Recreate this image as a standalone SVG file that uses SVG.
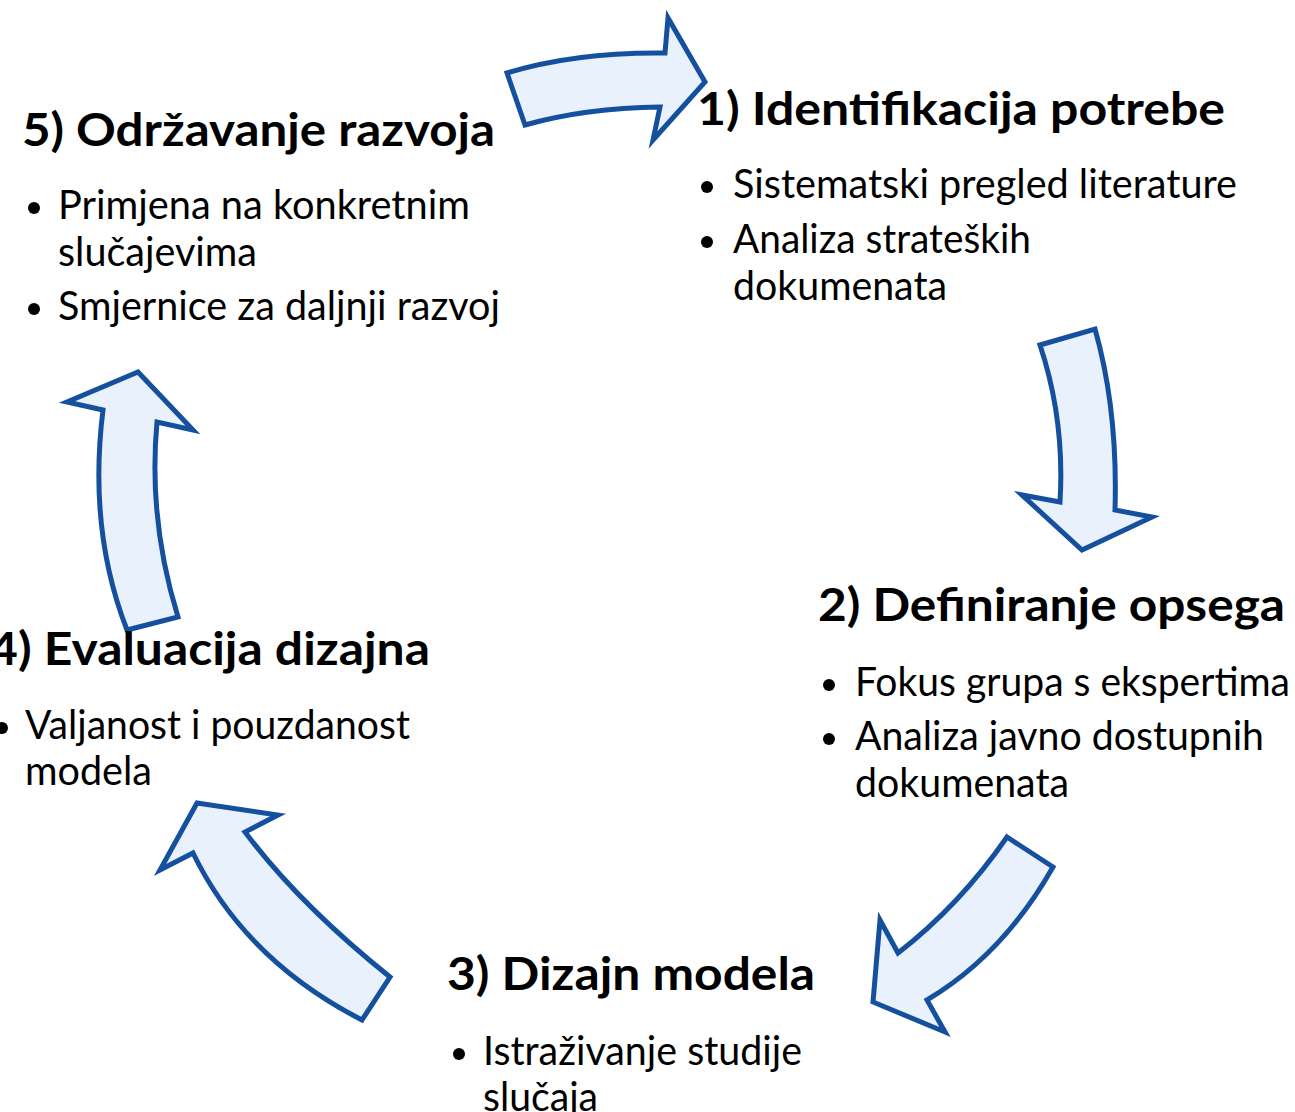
<svg xmlns="http://www.w3.org/2000/svg" width="1295" height="1112" viewBox="0 0 1295 1112">
<style>
.arrow{fill:#E8F1FC;stroke:#15509E;stroke-width:5;stroke-linejoin:miter;stroke-miterlimit:10}
.h{font-family:Lato,"Open Sans","Liberation Sans",sans-serif;font-weight:bold;font-size:46px;fill:#000}
.t{font-family:Lato,"Open Sans","Liberation Sans",sans-serif;font-size:41px;fill:#000}
.dot{fill:#000}
</style>
<rect width="1295" height="1112" fill="#fff"/>
<g id="connectors">
<path class="arrow" d="M507,73 Q575,52 665,53 L668,18 L705,82 L653,140 L660,107 Q585,108 525,125 Z"/>
<path class="arrow" d="M1040,345 L1095,329 Q1118,410 1115,510 L1152,517 L1082,550 L1022,495 L1060,502 Q1065,420 1040,345 Z"/>
<path class="arrow" d="M1007,837 L1053,867 Q1003,955 927,1000 L945,1032 L873,1002 L880,920 L898,953 Q960,905 1007,837 Z"/>
<path class="arrow" d="M362,1020 L390,977 Q300,905 245,832 L278,815 L197,803 L160,870 L193,853 Q245,960 362,1020 Z"/>
<path class="arrow" d="M127,630 L178,617 Q148,520 157,422 L193,430 L138,372 L67,402 L103,410 Q88,530 127,630 Z"/>
</g>
<g id="node1">
<text class="h" x="697" y="125" textLength="528" lengthAdjust="spacingAndGlyphs">1) Identifikacija potrebe</text>
<circle class="dot" cx="707" cy="187" r="6"/>
<text class="t" x="733" y="198" textLength="504" lengthAdjust="spacingAndGlyphs">Sistematski pregled literature</text>
<circle class="dot" cx="707" cy="242" r="6"/>
<text class="t" x="733" y="253" textLength="298" lengthAdjust="spacingAndGlyphs">Analiza strateških</text>
<text class="t" x="733" y="300" textLength="214" lengthAdjust="spacingAndGlyphs">dokumenata</text>
</g>
<g id="node2">
<text class="h" x="818" y="621" textLength="467" lengthAdjust="spacingAndGlyphs">2) Definiranje opsega</text>
<circle class="dot" cx="829" cy="685" r="6"/>
<text class="t" x="855" y="696" textLength="435" lengthAdjust="spacingAndGlyphs">Fokus grupa s ekspertima</text>
<circle class="dot" cx="829" cy="739" r="6"/>
<text class="t" x="855" y="750" textLength="409" lengthAdjust="spacingAndGlyphs">Analiza javno dostupnih</text>
<text class="t" x="855" y="797" textLength="214" lengthAdjust="spacingAndGlyphs">dokumenata</text>
</g>
<g id="node3">
<text class="h" x="447" y="990" textLength="368" lengthAdjust="spacingAndGlyphs">3) Dizajn modela</text>
<circle class="dot" cx="459" cy="1054" r="6"/>
<text class="t" x="483" y="1065" textLength="319" lengthAdjust="spacingAndGlyphs">Istraživanje studije</text>
<text class="t" x="483" y="1111" textLength="115" lengthAdjust="spacingAndGlyphs">slučaja</text>
</g>
<g id="node4">
<text class="h" x="-11" y="665" textLength="441" lengthAdjust="spacingAndGlyphs">4) Evaluacija dizajna</text>
<circle class="dot" cx="2" cy="728" r="6"/>
<text class="t" x="25" y="739" textLength="385" lengthAdjust="spacingAndGlyphs">Valjanost i pouzdanost</text>
<text class="t" x="25" y="785" textLength="127" lengthAdjust="spacingAndGlyphs">modela</text>
</g>
<g id="node5">
<text class="h" x="22" y="146" textLength="473" lengthAdjust="spacingAndGlyphs">5) Održavanje razvoja</text>
<circle class="dot" cx="34" cy="208" r="6"/>
<text class="t" x="58" y="219" textLength="412" lengthAdjust="spacingAndGlyphs">Primjena na konkretnim</text>
<text class="t" x="58" y="266" textLength="199" lengthAdjust="spacingAndGlyphs">slučajevima</text>
<circle class="dot" cx="34" cy="309" r="6"/>
<text class="t" x="58" y="320" textLength="442" lengthAdjust="spacingAndGlyphs">Smjernice za daljnji razvoj</text>
</g>
</svg>
